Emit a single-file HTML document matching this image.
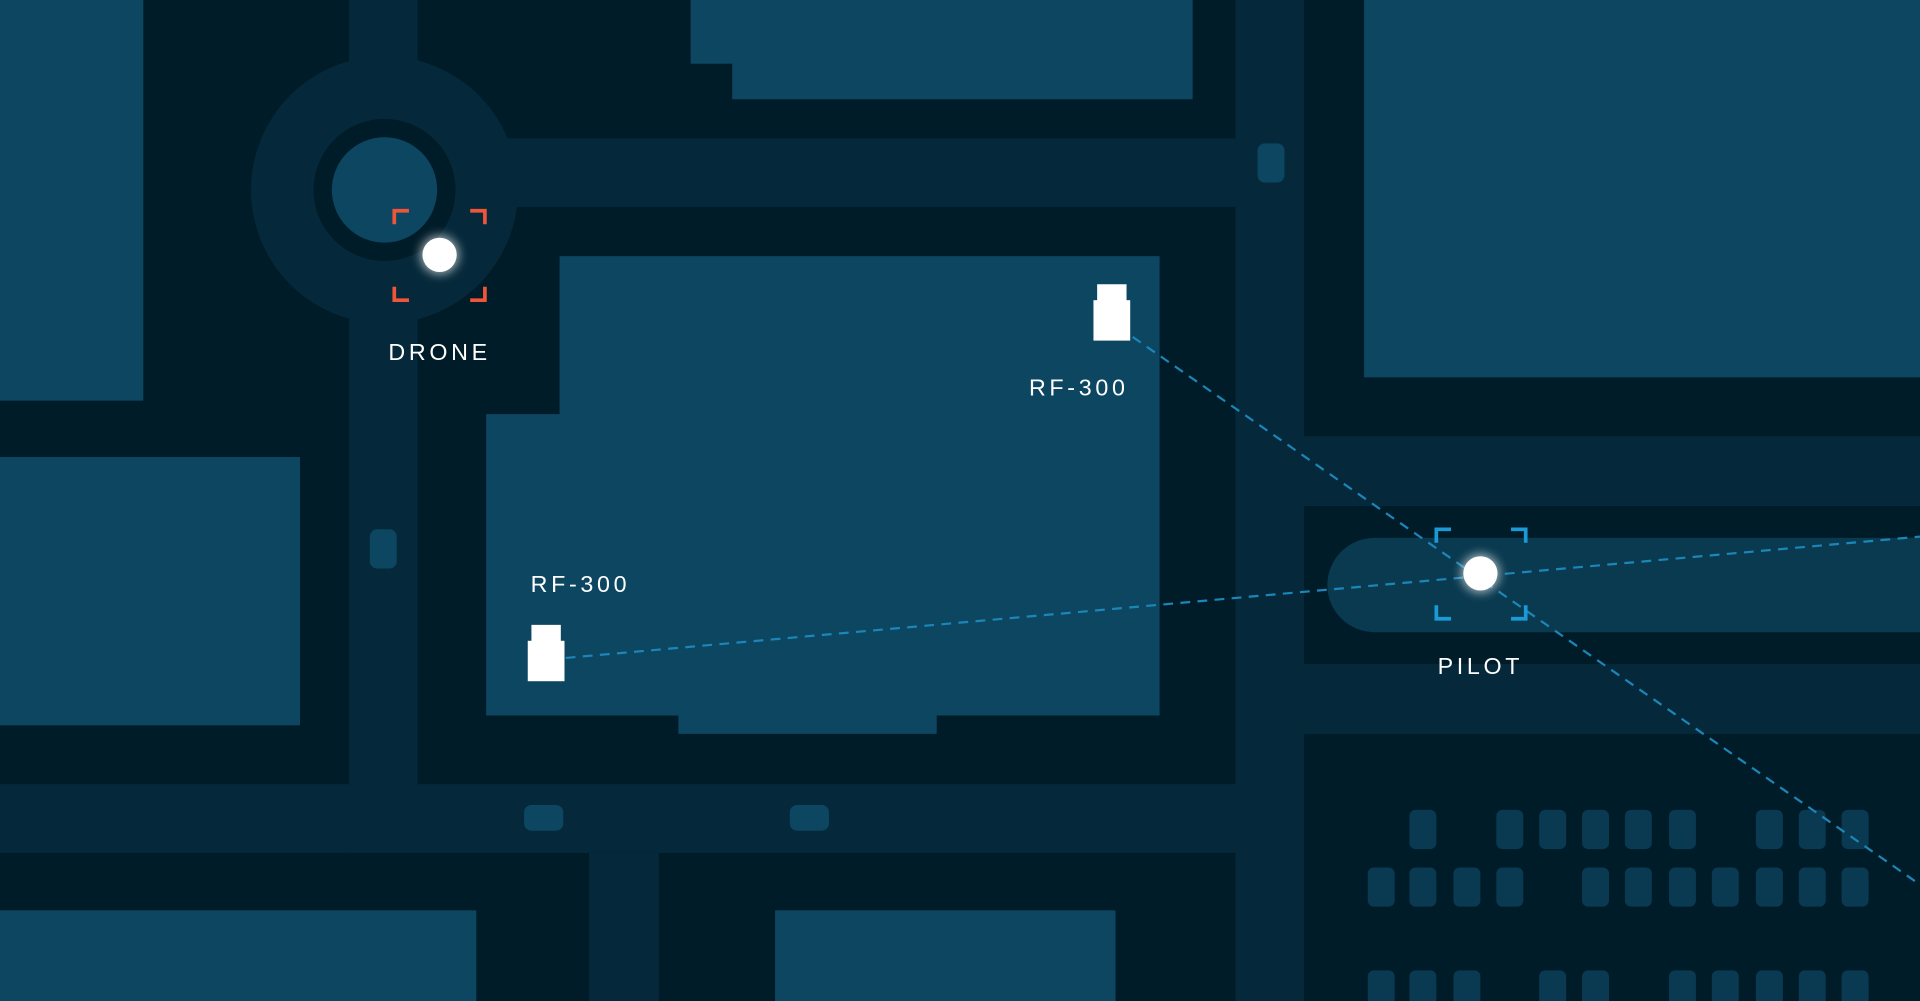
<!DOCTYPE html>
<html><head><meta charset="utf-8"><style>
html,body{margin:0;padding:0;background:#011c29;overflow:hidden}
svg{display:block}
text{font-family:"Liberation Sans",sans-serif;fill:#fff;font-size:19px;letter-spacing:3px;text-anchor:middle}
</style></head><body>
<svg width="1920" height="1001" viewBox="0 0 1568 817" preserveAspectRatio="none">
<defs><filter id="g" x="-1" y="-1" width="3" height="3"><feGaussianBlur stdDeviation="4"/></filter></defs>
<rect width="1568" height="817" fill="#011c29"/>
<g fill="#05293a">
<rect x="285" y="0" width="56" height="696"/>
<rect x="0" y="640" width="1009" height="56"/>
<rect x="341" y="113" width="668" height="56"/>
<rect x="1009" y="0" width="56" height="817"/>
<rect x="1065" y="356" width="503" height="57"/>
<rect x="1065" y="542" width="503" height="57"/>
<rect x="481" y="696" width="57" height="121"/>
<circle cx="314" cy="155" r="109"/>
</g>
<rect x="1084" y="439" width="520" height="77" rx="38.5" fill="#0a3a50"/>
<circle cx="314" cy="155" r="58" fill="#011c29"/>
<g fill="#0d4661">
<circle cx="314" cy="155" r="43"/>
<rect x="0" y="0" width="117" height="327"/>
<rect x="0" y="373" width="245" height="219"/>
<rect x="0" y="743" width="389" height="74"/>
<rect x="564" y="0" width="410" height="52"/>
<rect x="598" y="51" width="376" height="30"/>
<polygon points="457,209 947,209 947,584 765,584 765,599 554,599 554,584 397,584 397,338 457,338"/>
<rect x="633" y="743" width="278" height="74"/>
<rect x="1114" y="0" width="454" height="308"/>
<rect x="1027" y="117" width="22" height="32" rx="6"/>
<rect x="302" y="432" width="22" height="32" rx="6"/>
<rect x="428" y="657" width="32" height="21" rx="6"/>
<rect x="645" y="657" width="32" height="21" rx="6"/>
</g>
<g fill="#0a3a52">
<rect x="1151" y="661" width="22" height="32" rx="5"/><rect x="1222" y="661" width="22" height="32" rx="5"/><rect x="1257" y="661" width="22" height="32" rx="5"/><rect x="1292" y="661" width="22" height="32" rx="5"/><rect x="1327" y="661" width="22" height="32" rx="5"/><rect x="1363" y="661" width="22" height="32" rx="5"/><rect x="1434" y="661" width="22" height="32" rx="5"/><rect x="1469" y="661" width="22" height="32" rx="5"/><rect x="1504" y="661" width="22" height="32" rx="5"/>
<rect x="1117" y="708" width="22" height="32" rx="5"/><rect x="1151" y="708" width="22" height="32" rx="5"/><rect x="1187" y="708" width="22" height="32" rx="5"/><rect x="1222" y="708" width="22" height="32" rx="5"/><rect x="1292" y="708" width="22" height="32" rx="5"/><rect x="1327" y="708" width="22" height="32" rx="5"/><rect x="1363" y="708" width="22" height="32" rx="5"/><rect x="1398" y="708" width="22" height="32" rx="5"/><rect x="1434" y="708" width="22" height="32" rx="5"/><rect x="1469" y="708" width="22" height="32" rx="5"/><rect x="1504" y="708" width="22" height="32" rx="5"/>
<rect x="1117" y="792" width="22" height="32" rx="5"/><rect x="1151" y="792" width="22" height="32" rx="5"/><rect x="1187" y="792" width="22" height="32" rx="5"/><rect x="1257" y="792" width="22" height="32" rx="5"/><rect x="1292" y="792" width="22" height="32" rx="5"/><rect x="1363" y="792" width="22" height="32" rx="5"/><rect x="1398" y="792" width="22" height="32" rx="5"/><rect x="1434" y="792" width="22" height="32" rx="5"/><rect x="1469" y="792" width="22" height="32" rx="5"/><rect x="1504" y="792" width="22" height="32" rx="5"/>
</g>
<g stroke="#1c86b8" stroke-width="1.8" stroke-dasharray="8,6" fill="none">
<line x1="925" y1="275" x2="1568" y2="722"/>
<line x1="462" y1="537" x2="1568" y2="438"/>
</g>
<g fill="#fff">
<rect x="893" y="245" width="30" height="33"/><rect x="896" y="232" width="24" height="14"/>
<rect x="431" y="523" width="30" height="33"/><rect x="434" y="510" width="24" height="14"/>
</g>
<g stroke="#f0553a" stroke-width="3" fill="none">
<polyline points="322,183 322,172 334,172"/><polyline points="384,172 396,172 396,183"/>
<polyline points="322,234 322,245 334,245"/><polyline points="384,245 396,245 396,234"/>
</g>
<g stroke="#1a9ad6" stroke-width="3" fill="none">
<polyline points="1173,443 1173,432 1185,432"/><polyline points="1234,432 1246,432 1246,443"/>
<polyline points="1173,494 1173,505 1185,505"/><polyline points="1234,505 1246,505 1246,494"/>
</g>
<circle cx="359" cy="208" r="16" fill="#fff" opacity="0.6" filter="url(#g)"/>
<circle cx="359" cy="208" r="14" fill="#fff"/>
<circle cx="1209" cy="468" r="16" fill="#fff" opacity="0.6" filter="url(#g)"/>
<circle cx="1209" cy="468" r="14" fill="#fff"/>
<text x="359" y="294">DRONE</text>
<text x="881" y="323">RF-300</text>
<text x="474" y="483">RF-300</text>
<text x="1209" y="550">PILOT</text>
</svg>
</body></html>
